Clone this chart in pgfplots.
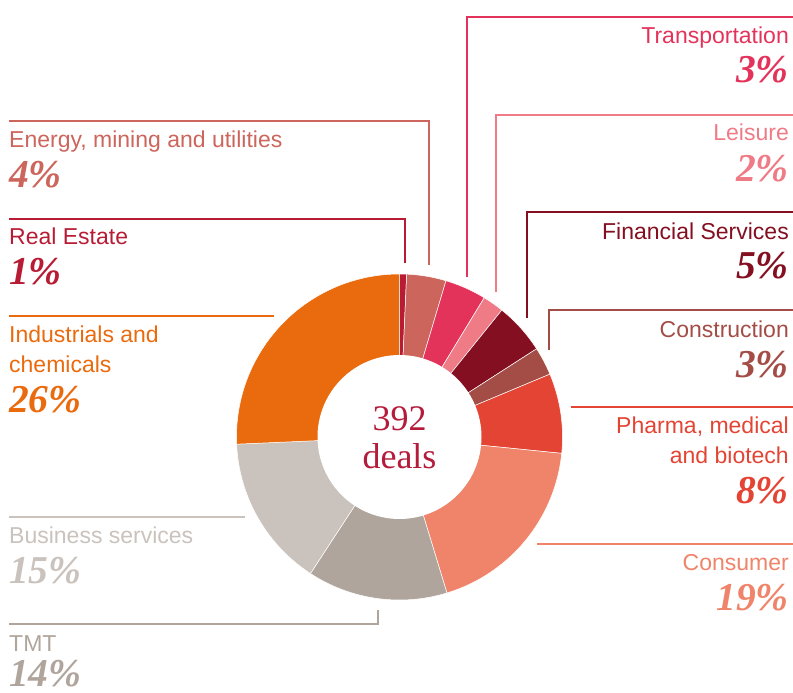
\documentclass[border=0pt]{standalone}
\usepackage{pgfplots}
\pgfplotsset{compat=1.18}
\usepackage{pgfplotstable}
\usepackage{fontspec}
\setmainfont{Liberation Sans}
\newfontfamily\seriffont{Liberation Serif}

% slice colours (clockwise from 12 o'clock)
\definecolor{slice0}{HTML}{B71C34}  % Real Estate
\definecolor{slice1}{HTML}{CC655B}  % Energy
\definecolor{slice2}{HTML}{E4335B}  % Transportation
\definecolor{slice3}{HTML}{EE7B86}  % Leisure
\definecolor{slice4}{HTML}{830F21}  % Financial
\definecolor{slice5}{HTML}{A34D46}  % Construction
\definecolor{slice6}{HTML}{E44433}  % Pharma
\definecolor{slice7}{HTML}{EF846A}  % Consumer
\definecolor{slice8}{HTML}{AFA59C}  % TMT
\definecolor{slice9}{HTML}{CAC2BC}  % Business services
\definecolor{slice10}{HTML}{EA6A0E} % Industrials
\definecolor{centre}{HTML}{B51C3C}

% shares of the ring (percent, clockwise from the top)
\pgfplotstableread{
name share
RealEstate 0.7
Energy 3.9
Transportation 4.1
Leisure 2.1
Financial 5.1
Construction 2.8
Pharma 7.9
Consumer 18.7
TMT 13.9
Business 15.1
Industrials 25.7
}\shares

\gdef\cum{0}
\foreach \i in {0,...,10}{%
  \pgfplotstablegetelem{\i}{share}\of\shares
  \pgfmathsetmacro\st{90-3.6*\cum}%
  \pgfmathsetmacro\newcum{\cum+\pgfplotsretval}%
  \pgfmathsetmacro\en{90-3.6*\newcum}%
  \expandafter\xdef\csname sa\i\endcsname{\st}%
  \expandafter\xdef\csname se\i\endcsname{\en}%
  \xdef\cum{\newcum}%
}

\def\cx{399.5}
\def\cy{437}
\def\Ro{163}
\def\Ri{82}

\newcommand\lab[1]{\fontsize{23}{30}\selectfont #1}
\newcommand\pct[1]{\seriffont\bfseries\itshape\fontsize{39.5}{42}\selectfont #1}

\begin{document}
\begin{tikzpicture}
\begin{axis}[
  width=793pt, height=693pt, scale only axis,
  xmin=0, xmax=793, ymin=0, ymax=693, y dir=reverse,
  hide axis, clip=false, no markers,
]
% ring slices
\pgfplotsinvokeforeach{0,...,10}{
  \addplot[fill=slice#1, draw=white, line width=0.5pt,
    domain=\csname se#1\endcsname:\csname sa#1\endcsname, samples=80, variable=\t]
    ({\cx+\Ro*cos(\t)},{\cy-\Ro*sin(\t)}) -- (axis cs:\cx,\cy) -- cycle;
}
% hole
\addplot[fill=white, draw=none, domain=0:360, samples=120, variable=\t]
  ({\cx+\Ri*cos(\t)},{\cy-\Ri*sin(\t)}) -- cycle;

% leader lines
\addplot[slice1, line width=1.2pt] coordinates {(9,121) (429,121) (429,265)};
\addplot[slice0, line width=1.2pt] coordinates {(9,219) (405,219) (405,263)};
\addplot[slice10, line width=1.2pt] coordinates {(9,316) (274,316)};
\addplot[slice9, line width=1.2pt] coordinates {(9,517) (245,517)};
\addplot[slice8, line width=1.2pt] coordinates {(9,624) (378,624) (378,610)};
\addplot[slice2, line width=1.2pt] coordinates {(793,17) (467,17) (467,277)};
\addplot[slice3, line width=1.2pt] coordinates {(793,115) (496,115) (496,292)};
\addplot[slice4, line width=1.2pt] coordinates {(793,212) (527,212) (527,318)};
\addplot[slice5, line width=1.2pt] coordinates {(793,310) (549,310) (549,350)};
\addplot[slice6, line width=1.2pt] coordinates {(793,407) (571,407)};
\addplot[slice7, line width=1.2pt] coordinates {(793,544) (537,544)};

% centre text
\node[anchor=base, inner sep=0, text=centre] at (axis cs:\cx,430) {\seriffont\fontsize{36}{40}\selectfont 392};
\node[anchor=base, inner sep=0, text=centre] at (axis cs:\cx,468) {\seriffont\fontsize{36}{40}\selectfont deals};

% left labels
\node[anchor=base west, inner sep=0, text=slice1] at (axis cs:9,147) {\lab{Energy, mining and utilities}};
\node[anchor=base west, inner sep=0, text=slice1] at (axis cs:9,187) {\pct{4\%}};
\node[anchor=base west, inner sep=0, text=slice0] at (axis cs:9,244) {\lab{Real Estate}};
\node[anchor=base west, inner sep=0, text=slice0] at (axis cs:9,284) {\pct{1\%}};
\node[anchor=base west, inner sep=0, text=slice10] at (axis cs:9,342) {\lab{Industrials and}};
\node[anchor=base west, inner sep=0, text=slice10] at (axis cs:9,372) {\lab{chemicals}};
\node[anchor=base west, inner sep=0, text=slice10] at (axis cs:9,412) {\pct{26\%}};
\node[anchor=base west, inner sep=0, text=slice9] at (axis cs:9,543) {\lab{Business services}};
\node[anchor=base west, inner sep=0, text=slice9] at (axis cs:9,583) {\pct{15\%}};
\node[anchor=base west, inner sep=0, text=slice8] at (axis cs:9,651) {\lab{TMT}};
\node[anchor=base west, inner sep=0, text=slice8] at (axis cs:9,686.5) {\pct{14\%}};

% right labels
\node[anchor=base east, inner sep=0, text=slice2] at (axis cs:789,44) {\lab{Transportation}};
\node[anchor=base east, inner sep=0, text=slice2] at (axis cs:789,83) {\pct{3\%}};
\node[anchor=base east, inner sep=0, text=slice3] at (axis cs:789,140) {\lab{Leisure}};
\node[anchor=base east, inner sep=0, text=slice3] at (axis cs:789,181) {\pct{2\%}};
\node[anchor=base east, inner sep=0, text=slice4] at (axis cs:789,239) {\lab{Financial Services}};
\node[anchor=base east, inner sep=0, text=slice4] at (axis cs:789,278) {\pct{5\%}};
\node[anchor=base east, inner sep=0, text=slice5] at (axis cs:789,337) {\lab{Construction}};
\node[anchor=base east, inner sep=0, text=slice5] at (axis cs:789,377) {\pct{3\%}};
\node[anchor=base east, inner sep=0, text=slice6] at (axis cs:789,433) {\lab{Pharma, medical}};
\node[anchor=base east, inner sep=0, text=slice6] at (axis cs:789,463) {\lab{and biotech}};
\node[anchor=base east, inner sep=0, text=slice6] at (axis cs:789,503) {\pct{8\%}};
\node[anchor=base east, inner sep=0, text=slice7] at (axis cs:789,570) {\lab{Consumer}};
\node[anchor=base east, inner sep=0, text=slice7] at (axis cs:789,610) {\pct{19\%}};
\end{axis}
\pgfresetboundingbox
\path (0,0) rectangle (793pt,693pt);
\end{tikzpicture}
\end{document}
